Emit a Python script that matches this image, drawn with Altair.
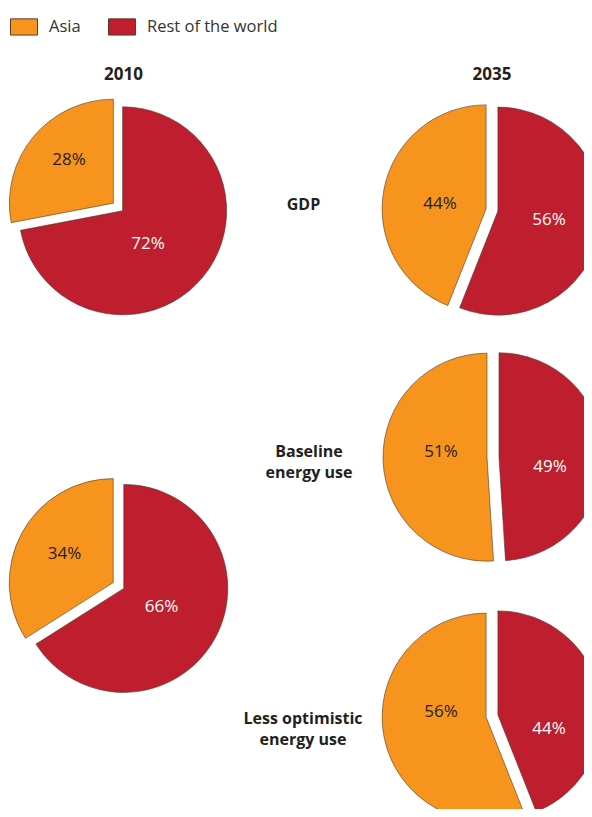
import math
import altair as alt
import pandas as pd

# ---------------- data ----------------
panels = ["2010 GDP", "2010 Energy use", "2035 GDP",
          "2035 Baseline energy use", "2035 Less optimistic energy use"]
asia_share = [28, 34, 44, 51, 56]
rest_share = [72, 66, 56, 49, 44]
regions = ["Asia", "Rest of the world"]
column_titles = ["2010", "2035"]
row_labels = ["GDP", "Baseline\nenergy use", "Less optimistic\nenergy use"]

# ---------------- layout (pixels inside the chart) ----------------
W, H = 576, 801
pie_center_x = [110, 110.5, 484, 485, 484]
pie_center_y = [199, 577.5, 202, 449, 708]
RADIUS = 104
EXPLODE = 6
# label offsets from the pie centre (dx, dy)
asia_label_offset = [(-49, -47), (-54, -32), (-52, -6), (-52, -5), (-51, -4)]
rest_label_offset = [(30, 37), (43, 21), (57, 10), (57, 10), (57, 13)]
column_title_pos = [(115.5, 67), (484, 67)]
row_label_pos = [(295.5, 197), (301, 444), (295, 711)]

ORANGE = "#F7941D"
RED = "#BE1E2D"
FONT = "Open Sans"

rows = []
for i, p in enumerate(panels):
    shares = {"Rest of the world": rest_share[i], "Asia": asia_share[i]}
    start = 0.0
    for reg in ["Rest of the world", "Asia"]:
        v = shares[reg]
        end = start + v
        mid = (start + end) / 2 / 100 * 2 * math.pi
        cx = pie_center_x[i] + EXPLODE * math.sin(mid)
        cy = pie_center_y[i] - EXPLODE * math.cos(mid)
        off = asia_label_offset[i] if reg == "Asia" else rest_label_offset[i]
        rows.append(dict(panel=p, region=reg, value=v, t0=start, t1=end,
                         cx=cx, cy=cy,
                         lx=pie_center_x[i] + off[0], ly=pie_center_y[i] + off[1],
                         label=f"{v}%"))
        start = end
slices = pd.DataFrame(rows)

base = alt.Chart(slices)

pies = base.mark_arc(radius=RADIUS, stroke="#4a3a30", strokeWidth=0.6).encode(
    x=alt.X("cx:Q", scale=None, axis=None),
    y=alt.Y("cy:Q", scale=None, axis=None),
    theta=alt.Theta("t0:Q", scale=alt.Scale(domain=[0, 100], range=[0, 2 * math.pi])),
    theta2=alt.Theta2("t1:Q"),
    color=alt.Color(
        "region:N",
        scale=alt.Scale(domain=regions, range=[ORANGE, RED]),
        legend=alt.Legend(
            title=None, orient="none", legendX=2, legendY=4.5,
            direction="horizontal",
            symbolType="M-1,-0.6L1,-0.6L1,0.6L-1,0.6Z", symbolSize=729,
            symbolStrokeColor="#5a3a28", symbolStrokeWidth=1, symbolOpacity=1,
            labelFont=FONT, labelFontSize=16.5, labelColor="#333333",
            labelOffset=11, columnPadding=25, padding=0,
        ),
    ),
)

asia_labels = base.transform_filter(alt.datum.region == "Asia").mark_text(
    font=FONT, fontSize=17, color="#231F20", baseline="middle", align="center"
).encode(
    x=alt.X("lx:Q", scale=None, axis=None),
    y=alt.Y("ly:Q", scale=None, axis=None),
    text="label:N",
)
rest_labels = base.transform_filter(alt.datum.region == "Rest of the world").mark_text(
    font=FONT, fontSize=17, color="#FFFFFF", baseline="middle", align="center"
).encode(
    x=alt.X("lx:Q", scale=None, axis=None),
    y=alt.Y("ly:Q", scale=None, axis=None),
    text="label:N",
)

titles_df = pd.DataFrame({
    "text": column_titles,
    "x": [p[0] for p in column_title_pos],
    "y": [p[1] for p in column_title_pos],
})
titles = alt.Chart(titles_df).mark_text(
    font=FONT, fontSize=17, fontWeight="bold", color="#231F20", baseline="middle"
).encode(
    x=alt.X("x:Q", scale=None, axis=None),
    y=alt.Y("y:Q", scale=None, axis=None),
    text="text:N",
)

rows_df = pd.DataFrame({
    "text": row_labels,
    "x": [p[0] for p in row_label_pos],
    "y": [p[1] for p in row_label_pos],
})
row_text = alt.Chart(rows_df).mark_text(
    font=FONT, fontSize=16, fontWeight="bold", color="#231F20",
    baseline="middle", lineBreak="\n", lineHeight=21,
).encode(
    x=alt.X("x:Q", scale=None, axis=None),
    y=alt.Y("y:Q", scale=None, axis=None),
    text="text:N",
)

chart = alt.layer(pies, asia_labels, rest_labels, titles, row_text).properties(
    width=W, height=H, autosize=alt.AutoSizeParams(type="none"), padding=0,
).configure_view(stroke=None)

chart.save("out.html", embed_options={"renderer": "svg", "actions": False})
